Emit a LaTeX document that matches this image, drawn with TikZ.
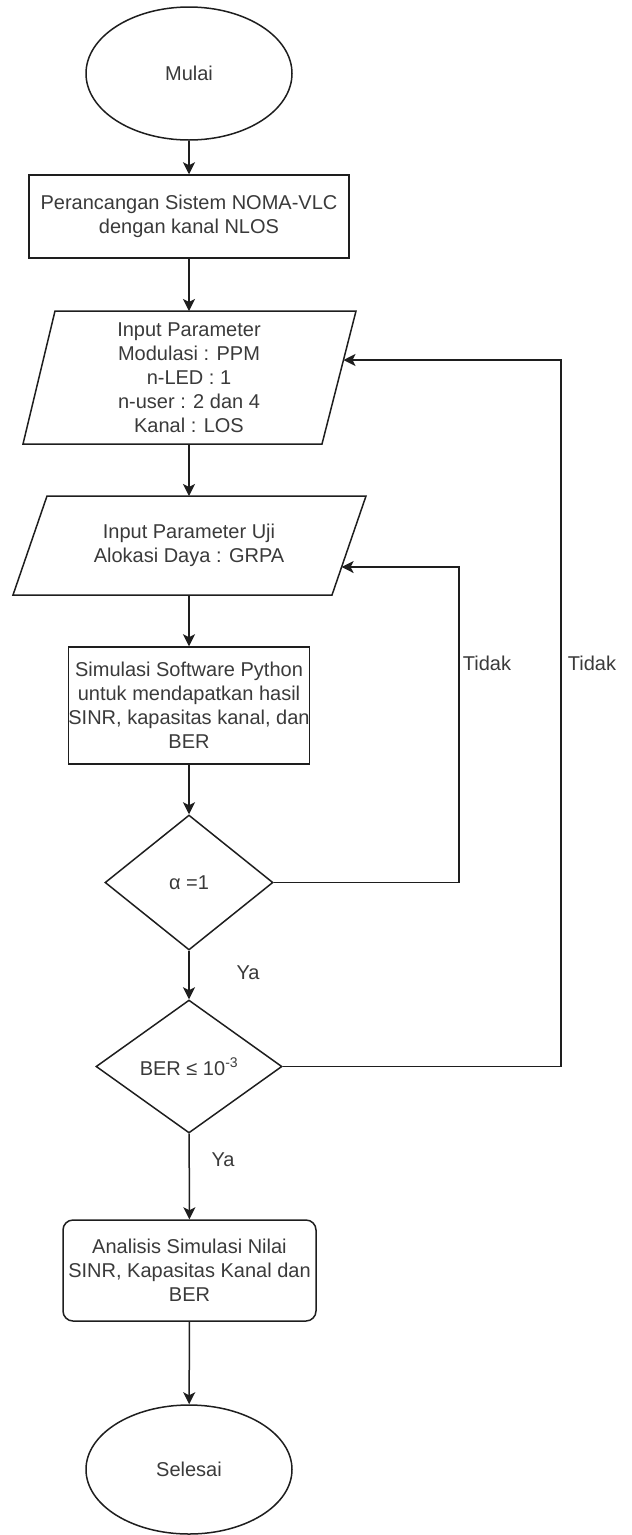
\documentclass[tikz,border=0pt]{standalone}
\usepackage{fontspec}
\setmainfont{Liberation Sans}
\usetikzlibrary{shapes.geometric,arrows.meta}
\definecolor{txt}{HTML}{3A3A3A}
\definecolor{ln}{HTML}{1E1E1E}
\tikzset{
  lbl/.style={font=\fontsize{20}{24}\selectfont, text=txt, inner sep=0pt},
  shp/.style={draw=ln, line width=1.5pt},
  boxnode/.style={lbl, shp, rectangle, align=center},
  dec/.style={lbl, shp, diamond, align=center},
  term/.style={lbl, shp, ellipse, align=center},
  conn/.style={draw=ln, line width=1.5pt, -{Stealth[length=12pt,width=12pt,inset=3pt]}},
  line/.style={draw=ln, line width=1.5pt}
}
\begin{document}
\begin{tikzpicture}[x=1pt,y=-1pt]
\useasboundingbox (0,0) rectangle (632,1535);

% terminals and boxes
\node[term, minimum width=206pt, minimum height=133pt] (mulai) at (189,73.5) {Mulai};
\node[boxnode, minimum width=320pt, minimum height=83pt] (box1) at (189,216.5) {Perancangan Sistem NOMA-VLC\\dengan kanal NLOS};

% parallelogram 1
\coordinate (p1a) at (55,311);
\coordinate (p1b) at (356,311);
\coordinate (p1c) at (322,444);
\coordinate (p1d) at (23,444);
\coordinate (p1top) at (189,311);
\coordinate (p1bot) at (189,444);
\coordinate (p1in) at (343.5,360);
\draw[shp] (p1a) -- (p1b) -- (p1c) -- (p1d) -- cycle;
\node[lbl, align=center] (p1) at (189,377.5) {Input Parameter\\Modulasi : PPM\\n-LED : 1\\n-user : 2 dan 4\\Kanal : LOS};

% parallelogram 2
\coordinate (p2a) at (47,496);
\coordinate (p2b) at (366,496);
\coordinate (p2c) at (332,595);
\coordinate (p2d) at (13,595);
\coordinate (p2top) at (189,496);
\coordinate (p2bot) at (189,595);
\coordinate (p2in) at (341.6,567);
\draw[shp] (p2a) -- (p2b) -- (p2c) -- (p2d) -- cycle;
\node[lbl, align=center] (p2) at (189,545.5) {Input Parameter Uji\\Alokasi Daya : GRPA};

\node[boxnode, minimum width=168pt, minimum height=117pt] (box2) at (189,705.5) {Simulasi Software Python\\untuk mendapatkan hasil\\SINR, kapasitas kanal, dan\\BER};

\node[dec, minimum width=168pt, minimum height=135pt] (d1) at (189,882.5) {α =1};
\node[dec, minimum width=186pt, minimum height=133pt] (d2) at (189,1066.5) {BER ≤ 10\textsuperscript{-3}};

\node[boxnode, rounded corners=10pt, minimum width=253pt, minimum height=101pt] (box3) at (189.5,1270.5) {Analisis Simulasi Nilai\\SINR, Kapasitas Kanal dan\\BER};

\node[term, minimum width=206pt, minimum height=129pt] (selesai) at (189,1469.5) {Selesai};

% main flow
\draw[conn] (mulai) -- (box1);
\draw[conn] (box1) -- (p1top);
\draw[conn] (p1bot) -- (p2top);
\draw[conn] (p2bot) -- (box2);
\draw[conn] (box2) -- (d1);
\draw[conn] (d1) -- (d2);
\draw[conn] (d2) -- (box3);
\draw[conn] (box3) -- (selesai);

% feedback loops
\coordinate (fb1) at (459,567);
\coordinate (fb2) at (561,360);
\draw[conn] (d1.east) -| (fb1) -- (p2in);
\draw[conn] (d2.east) -| (fb2) -- (p1in);

% labels
\node[lbl] (ya1) at (248,973) {Ya};
\node[lbl] (ya2) at (223,1160) {Ya};
\node[lbl] (t1) at (487,663) {Tidak};
\node[lbl] (t2) at (592,663) {Tidak};
\end{tikzpicture}
\end{document}
